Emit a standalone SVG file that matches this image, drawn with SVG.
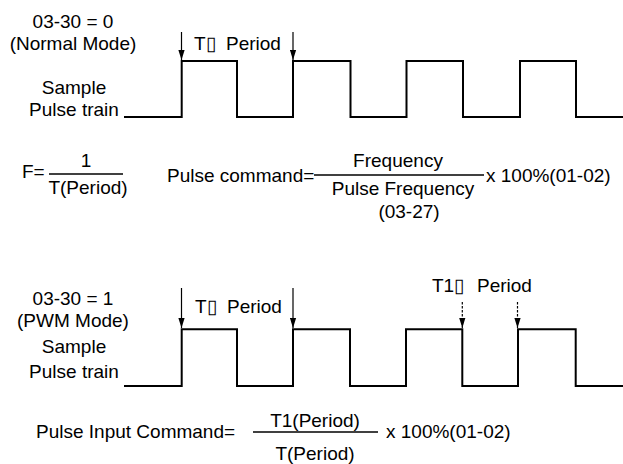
<svg xmlns="http://www.w3.org/2000/svg" width="623" height="464" viewBox="0 0 623 464">
<style>
text{font-family:"Liberation Sans",Arial,sans-serif;font-size:19px;fill:#000}
.m{text-anchor:middle}
.wave{fill:none;stroke:#000;stroke-width:2;stroke-linejoin:miter}
.ar{stroke:#000;stroke-width:1.2;fill:none}
.dash{stroke-dasharray:2.5 1.5}
.fr{stroke:#000;stroke-width:1.5}
</style>
<defs>
<marker id="ahd" markerUnits="userSpaceOnUse" markerWidth="10" markerHeight="7" refX="10" refY="3.5" orient="auto" viewBox="0 0 10 7">
<path d="M0 0.4 L10 3.5 L0 6.6 Z" fill="#000"/>
</marker>
</defs>
<g id="normal-mode">
<text class="m" x="73" y="28">03-30 = 0</text>
<text class="m" x="73" y="50">(Normal Mode)</text>
<text class="m" x="74" y="94">Sample</text>
<text class="m" x="74" y="116">Pulse train</text>
<path class="wave" d="M124 117 H181.7 V61 H237 V117 H293 V61 H350.5 V117 H406.5 V61 H463 V117 H520 V61 H576 V117 H623"/>
<text x="194" y="50">T▯<tspan x="226">Period</tspan></text>
</g>
<g id="pwm-mode">
<text class="m" x="73" y="305">03-30 = 1</text>
<text class="m" x="73" y="327">(PWM Mode)</text>
<text class="m" x="74" y="353">Sample</text>
<text class="m" x="74" y="378">Pulse train</text>
<path class="wave" d="M124 386 H181.7 V329.3 H237 V386 H293 V329.3 H350 V386 H406 V329.3 H462.3 V386 H518 V329.3 H575.7 V386 H623"/>
<text x="195" y="313">T▯<tspan x="227">Period</tspan></text>
<text x="432" y="292">T1▯<tspan x="477">Period</tspan></text>
</g>
<g id="connectors">
<line class="ar" x1="181.5" y1="32" x2="181.5" y2="60" marker-end="url(#ahd)"/>
<line class="ar" x1="293" y1="32" x2="293" y2="60" marker-end="url(#ahd)"/>
<line class="ar" x1="181.5" y1="288" x2="181.5" y2="328" marker-end="url(#ahd)"/>
<line class="ar" x1="293" y1="288" x2="293" y2="328" marker-end="url(#ahd)"/>
<line class="ar dash" x1="462.3" y1="302" x2="462.3" y2="328" marker-end="url(#ahd)"/>
<line class="ar dash" x1="517.5" y1="302" x2="517.5" y2="328" marker-end="url(#ahd)"/>
</g>
<g id="formula-f">
<text x="22" y="178">F=</text>
<line class="fr" x1="49" y1="174" x2="123" y2="174"/>
<text class="m" x="86" y="167">1</text>
<text class="m" x="88" y="194">T(Period)</text>
</g>
<g id="formula-pulse-command">
<text x="167" y="182">Pulse command=</text>
<line class="fr" x1="314" y1="175" x2="484" y2="175"/>
<text class="m" x="398" y="167">Frequency</text>
<text class="m" x="403" y="195">Pulse Frequency</text>
<text class="m" x="409" y="218">(03-27)</text>
<text x="486" y="182">x 100%(01-02)</text>
</g>
<g id="formula-pulse-input">
<text x="36" y="438">Pulse Input Command=</text>
<line class="fr" x1="253" y1="432" x2="378" y2="432"/>
<text class="m" x="315" y="427">T1(Period)</text>
<text class="m" x="315" y="460">T(Period)</text>
<text x="386" y="438">x 100%(01-02)</text>
</g>
</svg>
